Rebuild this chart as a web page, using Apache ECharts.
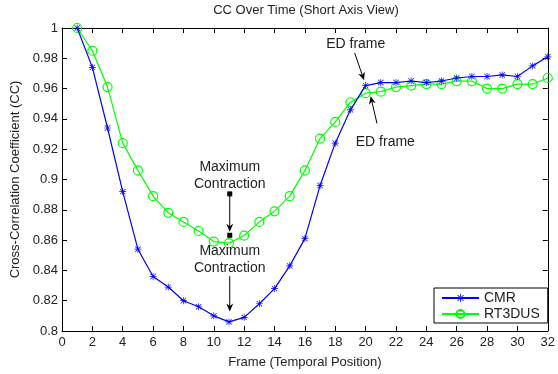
<!DOCTYPE html>
<html><head><meta charset="utf-8">
<script src="https://cdn.jsdelivr.net/npm/echarts@6/dist/echarts.min.js"></script>
<style>html,body{margin:0;padding:0;background:#fff}#c{width:558px;height:374px}</style>
</head><body><div id="c"></div>
<script>
const frames = [1,2,3,4,5,6,7,8,9,10,11,12,13,14,15,16,17,18,19,20,21,22,23,24,25,26,27,28,29,30,31,32];
const cmr = [1.000,0.974,0.934,0.892,0.854,0.836,0.829,0.820,0.816,0.810,0.806,0.809,0.818,0.828,0.843,0.861,0.896,0.924,0.946,0.962,0.964,0.964,0.965,0.964,0.965,0.967,0.968,0.968,0.969,0.968,0.975,0.981];
const rt3dus = [1.000,0.985,0.961,0.924,0.906,0.889,0.878,0.872,0.866,0.859,0.858,0.863,0.872,0.879,0.889,0.906,0.927,0.938,0.951,0.957,0.958,0.961,0.962,0.963,0.963,0.965,0.965,0.960,0.960,0.963,0.963,0.967];
const xTicks = [0,2,4,6,8,10,12,14,16,18,20,22,24,26,28,30,32];
const yTicks = [0.8,0.82,0.84,0.86,0.88,0.9,0.92,0.94,0.96,0.98,1];
const seriesNames = ['CMR','RT3DUS'];
const titleText = 'CC Over Time (Short Axis View)';
const xName = 'Frame (Temporal Position)';
const yName = 'Cross-Correlation Coefficient (CC)';

const FONT = '"Liberation Sans", Arial, Helvetica, sans-serif';
const TXT = '#222';
const star = 'path://M0,4.5L10,4.5L10,5.5L0,5.5Z M4.5,0L5.5,0L5.5,10L4.5,10Z M1.5,0.8L9.2,8.5L8.5,9.2L0.8,1.5Z M8.5,0.8L9.2,1.5L1.5,9.2L0.8,8.5Z';

const chart = echarts.init(document.getElementById('c'), null, {renderer:'canvas'});
const axisCommon = {
  axisLine:{show:true, onZero:false, lineStyle:{color:'#000', width:1}},
  splitLine:{show:false}
};
const option = {
  animation:false,
  backgroundColor:'#fff',
  title:{text:titleText, top:4, left:306, textAlign:'center', padding:0,
    textStyle:{fontFamily:FONT, fontSize:13, fontWeight:'normal', color:TXT}},
  grid:{left:62, right:8, top:28, bottom:40, containLabel:false},
  legend:{
    orient:'vertical', left:434, top:288, data:seriesNames,
    backgroundColor:'#fff', borderColor:'#000', borderWidth:1, borderRadius:0,
    padding:[3,8,2,7], itemGap:2, itemWidth:37, itemHeight:10,
    textStyle:{fontFamily:FONT, fontSize:14, color:TXT}
  },
  xAxis:[
    Object.assign({type:'value', min:0, max:32, interval:2, position:'bottom',
      name:xName, nameLocation:'middle', nameGap:25,
      nameTextStyle:{fontFamily:FONT, fontSize:13, color:TXT},
      axisTick:{show:true, inside:true, length:5, lineStyle:{color:'#000'}, customValues:xTicks},
      axisLabel:{fontFamily:FONT, fontSize:13, color:TXT, margin:5, customValues:xTicks}
    }, axisCommon),
    Object.assign({type:'value', min:0, max:32, interval:2, position:'top',
      axisTick:{show:true, inside:true, length:5, lineStyle:{color:'#000'}, customValues:xTicks},
      axisLabel:{show:false}
    }, axisCommon)
  ],
  yAxis:[
    Object.assign({type:'value', min:0.8, max:1, interval:0.02, position:'left',
      name:yName, nameLocation:'middle', nameGap:38, nameRotate:90,
      nameTextStyle:{fontFamily:FONT, fontSize:13, color:TXT},
      axisTick:{show:true, inside:true, length:5, lineStyle:{color:'#000'}, customValues:yTicks},
      axisLabel:{fontFamily:FONT, fontSize:13, color:TXT, margin:4, customValues:yTicks,
        formatter:v=>String(+v.toFixed(2))}
    }, axisCommon),
    Object.assign({type:'value', min:0.8, max:1, interval:0.02, position:'right',
      axisTick:{show:true, inside:true, length:5, lineStyle:{color:'#000'}, customValues:yTicks},
      axisLabel:{show:false}
    }, axisCommon)
  ],
  series:[
    {name:seriesNames[0], type:'line', data:frames.map((f,i)=>[f,cmr[i]]),
      symbol:star, symbolSize:7, showAllSymbol:true,
      lineStyle:{color:'#0000ff', width:1.2}, itemStyle:{color:'#0000ff'}, z:3},
    {name:seriesNames[1], type:'line', data:frames.map((f,i)=>[f,rt3dus[i]]),
      symbol:'circle', symbolSize:9, showAllSymbol:true,
      lineStyle:{color:'#00ff00', width:1.2},
      itemStyle:{color:'rgba(0,0,0,0)', borderColor:'#00ff00', borderWidth:1.2}, z:2}
  ]
};
chart.setOption(option);

// annotations in data coordinates
const notes = [
  {text:'Maximum\nContraction', at:[11.05,0.9025], from:[11.05,0.8905], to:[11.05,0.8655], sqFrom:true, sqTo:true},
  {text:'Maximum\nContraction', at:[11.05,0.8473], from:[11.05,0.8362], to:[11.05,0.8128]},
  {text:'ED frame', at:[19.35,0.9894], from:[19.28,0.9835], to:[19.9,0.9655]},
  {text:'ED frame', at:[21.3,0.9245], from:[20.75,0.9370], to:[20.33,0.9550]}
];
function px(p){return chart.convertToPixel({xAxisIndex:0,yAxisIndex:0}, p);}
const g = [];
notes.forEach(n=>{
  const c = px(n.at);
  g.push({type:'text', z:10, style:{text:n.text, x:c[0], y:c[1], align:'center', verticalAlign:'middle',
    font:'14px '+FONT, fill:TXT, lineHeight:17}});
  const a = px(n.from), b = px(n.to);
  const dx=b[0]-a[0], dy=b[1]-a[1], L=Math.hypot(dx,dy), ux=dx/L, uy=dy/L, nx=-uy, ny=ux;
  const hl=8, hw=3.5, notch=5.5;
  g.push({type:'line', z:10, shape:{x1:a[0],y1:a[1],x2:b[0]-ux*notch,y2:b[1]-uy*notch}, style:{stroke:'#000', lineWidth:1}});
  g.push({type:'polygon', z:10, shape:{points:[
    [b[0],b[1]],
    [b[0]-ux*hl+nx*hw, b[1]-uy*hl+ny*hw],
    [b[0]-ux*notch, b[1]-uy*notch],
    [b[0]-ux*hl-nx*hw, b[1]-uy*hl-ny*hw]
  ]}, style:{fill:'#000'}});
  if(n.sqFrom) g.push({type:'rect', z:10, shape:{x:a[0]-2.5,y:a[1]-2.5,width:5,height:5}, style:{fill:'#000'}});
  if(n.sqTo) g.push({type:'rect', z:10, shape:{x:b[0]-2.5,y:b[1]+1,width:5,height:5}, style:{fill:'#000'}});
});
chart.setOption({graphic:g});
</script>
</body></html>
